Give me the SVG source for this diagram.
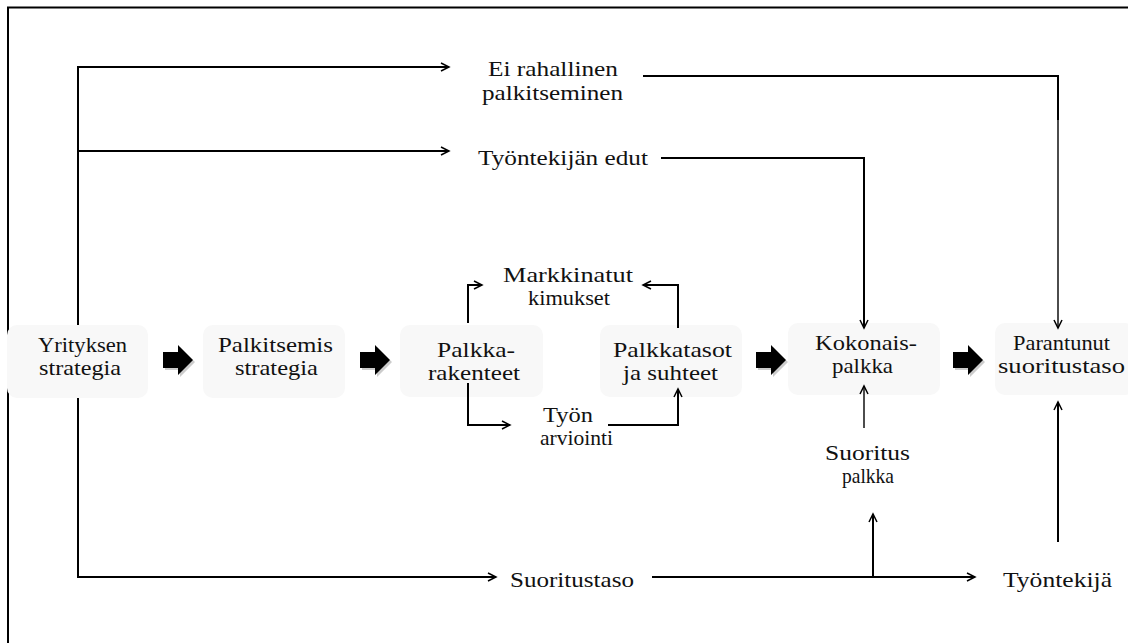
<svg xmlns="http://www.w3.org/2000/svg" width="1128" height="643" viewBox="0 0 1128 643">
  <style>
    .box { fill: #f8f8f8; stroke: none; }
    .lbl { font-family: "Liberation Serif", "Times New Roman", serif; font-size: 22px; fill: #111; }
    .ln { fill: none; stroke: #000; stroke-width: 2; }
    .thin { fill: none; stroke: #000; stroke-width: 1.4; }
    .blk { fill: #000; }
    .shd { fill: #999; opacity: 0.5; }
  </style>
  <defs>
    <marker id="open" markerUnits="userSpaceOnUse" markerWidth="12" markerHeight="12" refX="9" refY="5" orient="auto">
      <path d="M1,1 L9,5 L1,9" fill="none" stroke="#000" stroke-width="1.5"/>
    </marker>
    <path id="fat" d="M0,-8 H15 V-15 L30,0 L15,15 V8 H0 Z"/>
  </defs>

  <rect width="1128" height="643" fill="#fff"/>
  <!-- outer frame -->
  <path class="ln" d="M8,643 V7.5 H1128"/>

  <!-- node backgrounds and labels -->
  <g id="yrityksen-strategia">
    <rect class="box" x="7" y="325" width="141" height="73" rx="10"/>
    <text class="lbl" x="38" y="352" textLength="89" lengthAdjust="spacingAndGlyphs">Yrityksen</text>
    <text class="lbl" x="39" y="375" textLength="82" lengthAdjust="spacingAndGlyphs">strategia</text>
  </g>
  <g id="palkitsemis-strategia">
    <rect class="box" x="203" y="325" width="142" height="73" rx="10"/>
    <text class="lbl" x="218" y="352" textLength="115" lengthAdjust="spacingAndGlyphs">Palkitsemis</text>
    <text class="lbl" x="235" y="375" textLength="83" lengthAdjust="spacingAndGlyphs">strategia</text>
  </g>
  <g id="palkkarakenteet">
    <rect class="box" x="400" y="325" width="143" height="72" rx="10"/>
    <text class="lbl" x="437" y="357" textLength="78" lengthAdjust="spacingAndGlyphs">Palkka-</text>
    <text class="lbl" x="428" y="380" textLength="92" lengthAdjust="spacingAndGlyphs">rakenteet</text>
  </g>
  <g id="palkkatasot">
    <rect class="box" x="600" y="325" width="142" height="72" rx="10"/>
    <text class="lbl" x="613" y="357" textLength="119" lengthAdjust="spacingAndGlyphs">Palkkatasot</text>
    <text class="lbl" x="623" y="380" textLength="95" lengthAdjust="spacingAndGlyphs">ja suhteet</text>
  </g>
  <g id="kokonaispalkka">
    <rect class="box" x="788" y="323" width="152" height="72" rx="10"/>
    <text class="lbl" x="815" y="350" textLength="102" lengthAdjust="spacingAndGlyphs">Kokonais-</text>
    <text class="lbl" x="832" y="373" textLength="61" lengthAdjust="spacingAndGlyphs">palkka</text>
  </g>
  <g id="parantunut-suoritustaso">
    <rect class="box" x="995" y="323" width="140" height="72" rx="10"/>
    <text class="lbl" x="1013" y="350" textLength="97" lengthAdjust="spacingAndGlyphs">Parantunut</text>
    <text class="lbl" x="998" y="373" textLength="127" lengthAdjust="spacingAndGlyphs">suoritustaso</text>
  </g>
  <g id="ei-rahallinen">
    <text class="lbl" x="488" y="76" textLength="130" lengthAdjust="spacingAndGlyphs">Ei rahallinen</text>
    <text class="lbl" x="482" y="100" textLength="141" lengthAdjust="spacingAndGlyphs">palkitseminen</text>
  </g>
  <g id="tyontekijan-edut">
    <text class="lbl" x="478" y="165" textLength="170" lengthAdjust="spacingAndGlyphs">Työntekijän edut</text>
  </g>
  <g id="markkinatut">
    <text class="lbl" x="503" y="282" textLength="130" lengthAdjust="spacingAndGlyphs">Markkinatut</text>
    <text class="lbl" x="528" y="305" textLength="82" lengthAdjust="spacingAndGlyphs">kimukset</text>
  </g>
  <g id="tyon-arviointi">
    <text class="lbl" x="543" y="422" textLength="50" lengthAdjust="spacingAndGlyphs">Työn</text>
    <text class="lbl" x="540" y="445" textLength="73" lengthAdjust="spacingAndGlyphs">arviointi</text>
  </g>
  <g id="suoritus-palkka">
    <text class="lbl" x="825" y="460" textLength="85" lengthAdjust="spacingAndGlyphs">Suoritus</text>
    <text class="lbl" x="842" y="483" textLength="52" lengthAdjust="spacingAndGlyphs">palkka</text>
  </g>
  <g id="suoritustaso">
    <text class="lbl" x="510" y="587" textLength="124" lengthAdjust="spacingAndGlyphs">Suoritustaso</text>
  </g>
  <g id="tyontekija">
    <text class="lbl" x="1003" y="587" textLength="109" lengthAdjust="spacingAndGlyphs">Työntekijä</text>
  </g>

  <!-- connectors -->
  <g id="connectors">
    <!-- main chain block arrows -->
    <use href="#fat" class="shd" x="165" y="362"/>
    <use href="#fat" class="blk" x="163" y="360"/>
    <use href="#fat" class="shd" x="362" y="362"/>
    <use href="#fat" class="blk" x="360" y="360"/>
    <use href="#fat" class="shd" x="758" y="362"/>
    <use href="#fat" class="blk" x="756" y="360"/>
    <use href="#fat" class="shd" x="955" y="362"/>
    <use href="#fat" class="blk" x="953" y="360"/>

    <!-- company strategy branches -->
    <path class="ln" d="M78,325 V67 H449" marker-end="url(#open)"/>
    <path class="ln" d="M78,151 H449" marker-end="url(#open)"/>
    <path class="ln" d="M78,398 V577 H496" marker-end="url(#open)"/>

    <!-- non-monetary reward to improved performance -->
    <path class="ln" d="M643,76 H1058 V120"/>
    <path class="thin" d="M1058,120 V328" marker-end="url(#open)"/>
    <!-- benefits to total pay -->
    <path class="ln" d="M661,158 H864 V328" marker-end="url(#open)"/>

    <!-- pay structure loop -->
    <path class="ln" d="M468,323 V285 H482" marker-end="url(#open)"/>
    <path class="ln" d="M678,328 V285 H643" marker-end="url(#open)"/>
    <path class="ln" d="M468,383 V425 H510" marker-end="url(#open)"/>
    <path class="ln" d="M608,425 H678 V389" marker-end="url(#open)"/>

    <!-- performance pay to total pay -->
    <path class="thin" d="M864,428 V386" marker-end="url(#open)"/>

    <!-- performance level branches -->
    <path class="ln" d="M652,577 H975" marker-end="url(#open)"/>
    <path class="ln" d="M873,577 V514" marker-end="url(#open)"/>
    <!-- employee to improved performance -->
    <path class="ln" d="M1058,542 V402" marker-end="url(#open)"/>
  </g>
</svg>
